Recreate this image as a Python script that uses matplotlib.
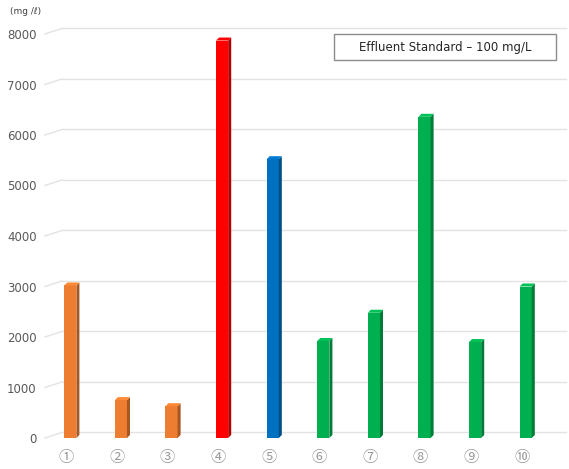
import matplotlib
matplotlib.use('Agg')
import matplotlib.pyplot as plt
import matplotlib.patches as patches
import matplotlib.colors as mcolors
import numpy as np

# data
labels = ['①', '②', '③', '④', '⑤', '⑥', '⑦', '⑧', '⑨', '⑩']
values = [3020, 750, 630, 7870, 5520, 1920, 2480, 6360, 1900, 3000]
colors = ['#ED7D31', '#ED7D31', '#ED7D31', '#FF0000', '#0070C0',
          '#00B050', '#00B050', '#00B050', '#00B050', '#00B050']
yticks = [0, 1000, 2000, 3000, 4000, 5000, 6000, 7000, 8000]
note = 'Effluent Standard – 100 mg/L'
unit = '(mg /ℓ)'

plt.rcParams['font.family'] = ['DejaVu Sans', 'Noto Sans CJK JP']

W, H = 569, 469
fig = plt.figure(figsize=(W / 100, H / 100), dpi=100)
ax = fig.add_axes([45 / W, (H - 438) / H, 521 / W, (438 - 34) / H])

x = np.arange(len(values))
bar_w = 0.24
dx = 0.06      # 3d depth, data units in x
dy = 60        # 3d depth, data units in y
grid_off = 110
stub = 17 / 50.6

ax.set_xlim(-0.5, -0.5 + 521 / 50.6)
ax.set_ylim(0, 8000)

# back-wall gridlines with a little slanted floor stub at the left
for v in yticks:
    ax.plot([-0.5, -0.5 + stub], [v, v + grid_off], color='#e3e3e3', lw=1, clip_on=False, zorder=1)
    ax.plot([-0.5 + stub, 9.8], [v + grid_off, v + grid_off], color='#e3e3e3', lw=1, clip_on=False, zorder=1)

# front faces
ax.bar(x, values, width=bar_w, color=colors, zorder=3, linewidth=0)

# side and top faces for the 3d look
for xi, v, c in zip(x, values, colors):
    dark = np.array(mcolors.to_rgb(c)) * 0.7
    light = np.clip(np.array(mcolors.to_rgb(c)) * 1.1, 0, 1)
    r = xi + bar_w / 2
    l = xi - bar_w / 2
    side = patches.Polygon([(r, 0), (r + dx, dy), (r + dx, v + dy), (r, v)],
                           closed=True, facecolor=dark, edgecolor='none', zorder=3)
    top = patches.Polygon([(l, v), (r, v), (r + dx, v + dy), (l + dx, v + dy)],
                          closed=True, facecolor=light, edgecolor='none', zorder=3)
    ax.add_patch(side)
    ax.add_patch(top)

for s in ax.spines.values():
    s.set_visible(False)

ax.set_yticks(yticks)
ax.set_yticklabels([str(t) for t in yticks])
ax.set_xticks(x - 0.08)
ax.set_xticklabels(labels, fontfamily=['Noto Sans CJK JP', 'DejaVu Sans'])
ax.tick_params(axis='both', length=0, colors='#595959', labelsize=8.5)
ax.tick_params(axis='x', pad=8, colors='#9a9a9a', labelsize=11)
ax.tick_params(axis='y', pad=6)

fig.text(10 / W, 1 - 12 / H, unit, fontsize=6.5, color='#404040', va='center', ha='left')

# note box
box = patches.Rectangle((334 / W, 1 - 60 / H), 222 / W, 26 / H, transform=fig.transFigure,
                        facecolor='white', edgecolor='#8c8c8c', lw=1, zorder=5)
fig.add_artist(box)
fig.text(445 / W, 1 - 47 / H, note, fontsize=8.5, color='#262626', ha='center', va='center', zorder=6)

fig.savefig('out.png', dpi=100)
